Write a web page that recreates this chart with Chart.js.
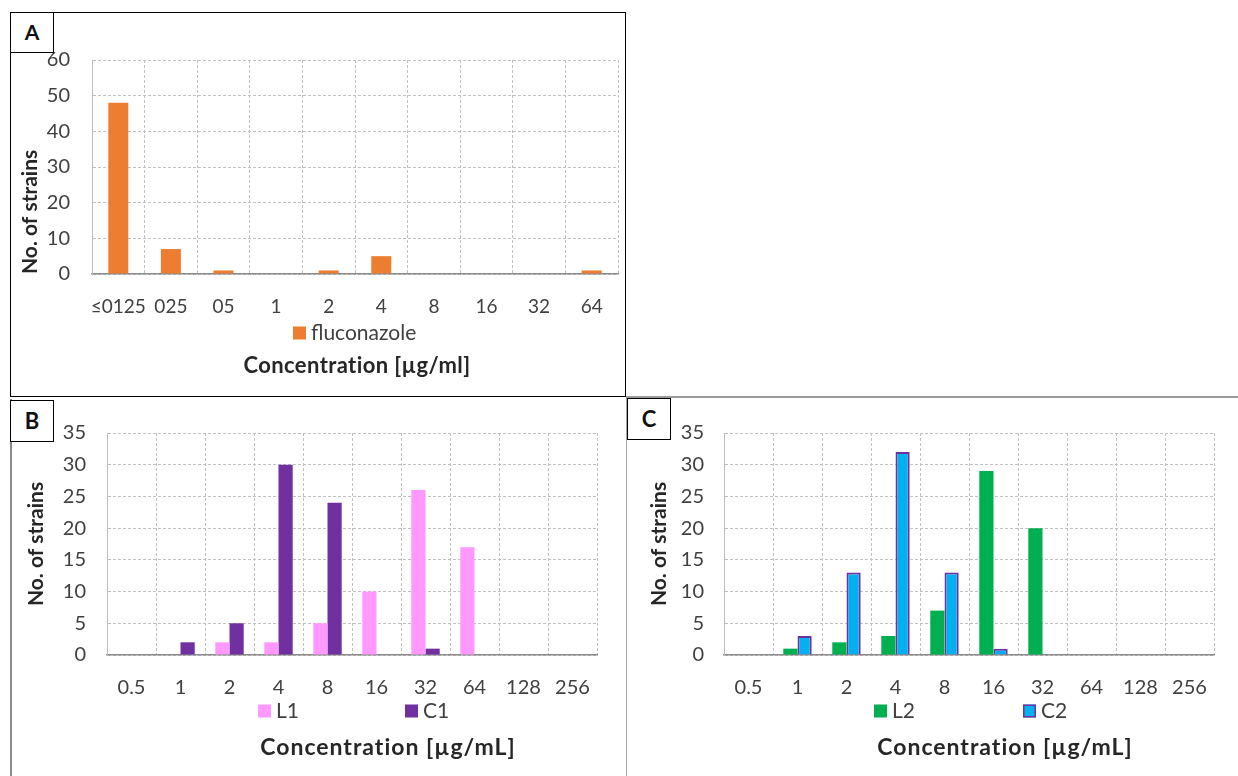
<!DOCTYPE html>
<html>
<head>
<meta charset="utf-8">
<script src="https://cdn.jsdelivr.net/npm/chart.js@4.4.1/dist/chart.umd.min.js"></script>
<style>
  body { margin: 0; background: #fff; }
  #page { position: relative; width: 1238px; height: 776px; overflow: hidden; background: #fff; font-family: Lato, sans-serif; }
  canvas { position: absolute; }
  .line { position: absolute; pointer-events: none; box-sizing: border-box; }
  .tag { position: absolute; box-sizing: border-box; border: 1.5px solid #000; background: #fff;
         font-weight: bold; color: #111; text-align: center; }
</style>
</head>
<body>
<div id="page">
  <canvas id="chartA" width="615" height="383" style="left:10px;top:12px"></canvas>
  <canvas id="chartB" width="615" height="380" style="left:10px;top:396px"></canvas>
  <canvas id="chartC" width="611" height="380" style="left:627px;top:396px"></canvas>

  <!-- panel frames -->
  <div class="line" style="left:10px;top:12px;width:616px;height:385px;border:1.5px solid #000"></div>
  <div class="line" style="left:10px;top:399px;width:2px;height:377px;background:#8a8a8a"></div>
  <div class="line" style="left:626px;top:396px;width:1px;height:380px;background:#a8a8a8"></div>
  <div class="line" style="left:626px;top:396px;width:612px;height:1.5px;background:#9a9a9a"></div>

  <div class="tag" style="left:10px;top:12px;width:44px;height:41px;font-size:21px;line-height:38px">A</div>
  <div class="tag" style="left:10px;top:400px;width:44px;height:42px;font-size:22px;line-height:39px">B</div>
  <div class="tag" style="left:627px;top:398px;width:44px;height:42px;font-size:22px;line-height:39px">C</div>
</div>

<script>
// Data
const catsA = ['≤0125', '025', '05', '1', '2', '4', '8', '16', '32', '64'];
const fluconazole = [48, 7, 1, 0, 1, 5, 0, 0, 0, 1];

const catsBC = ['0.5', '1', '2', '4', '8', '16', '32', '64', '128', '256'];
const L1 = [0, 0, 2, 2, 5, 10, 26, 17, 0, 0];
const C1 = [0, 2, 5, 30, 24, 0, 1, 0, 0, 0];
const L2 = [0, 1, 2, 3, 7, 29, 20, 0, 0, 0];
const C2 = [0, 3, 13, 32, 13, 1, 0, 0, 0, 0];

const ticksA = { min: 0, max: 60, step: 10 };
const ticksBC = { min: 0, max: 35, step: 5 };

const TXT = '#404040';
const GRID = '#c0c0c0';

// legend row + x title drawn between the tick labels and the bottom of the panel
const belowAxis = {
  id: 'belowAxis',
  afterDraw(chart, args, opts) {
    const ctx = chart.ctx;
    ctx.save();
    ctx.textBaseline = 'middle';
    ctx.textAlign = 'left';
    ctx.font = opts.legendFont;
    chart.data.datasets.forEach((ds, i) => {
      const x = opts.legendX[i];
      const y = opts.legendY;
      ctx.fillStyle = ds.backgroundColor;
      ctx.fillRect(x, y - 6.5, 13, 13);
      if (ds.borderWidth) {
        ctx.lineWidth = 1.5;
        ctx.strokeStyle = ds.borderColor;
        ctx.strokeRect(x + 0.75, y - 5.75, 11.5, 11.5);
      }
      ctx.fillStyle = TXT;
      ctx.fillText(ds.label, x + 18, y);
    });
    ctx.font = opts.titleFont;
    ctx.letterSpacing = opts.titleSpacing;
    ctx.textAlign = 'center';
    ctx.fillStyle = '#262626';
    ctx.fillText(opts.title, opts.titleX, opts.titleY);
    ctx.restore();
  }
};

function makeChart(id, labels, datasets, cfg) {
  return new Chart(document.getElementById(id), {
    type: 'bar',
    data: { labels, datasets },
    plugins: [belowAxis],
    options: {
      responsive: false,
      animation: false,
      events: [],
      layout: { padding: { left: 0, right: cfg.padRight, top: cfg.top, bottom: 0 } },
      datasets: {
        bar: { categoryPercentage: cfg.catPct, barPercentage: 1 }
      },
      scales: {
        x: {
          afterFit: (s) => { s.height = cfg.xHeight; },
          grid: { color: GRID, offset: true, drawTicks: false },
          border: { display: true, color: '#8c8c8c', width: 1.5, dash: [3, 2] },
          ticks: { color: TXT, padding: cfg.xPad, font: { family: 'Lato', size: cfg.xFont }, maxRotation: 0, autoSkip: false }
        },
        y: {
          min: cfg.ticks.min,
          max: cfg.ticks.max,
          afterFit: (s) => { s.width = cfg.yWidth; },
          grid: { color: GRID, drawTicks: false },
          border: { display: true, color: '#bdbdbd', width: 1, dash: [3, 2] },
          ticks: { stepSize: cfg.ticks.step, color: TXT, padding: cfg.yPad, font: { family: 'Lato', size: 20 } },
          title: {
            display: true,
            text: cfg.yTitle,
            align: cfg.yAlign,
            color: '#262626',
            padding: { top: cfg.yTitlePad, bottom: 0 },
            font: { family: 'Lato', size: 21, weight: 'bold' }
          }
        }
      },
      plugins: {
        legend: { display: false },
        tooltip: { enabled: false },
        belowAxis: {
          legendX: cfg.legendX,
          legendY: cfg.legendY,
          legendFont: '21px Lato',
          title: cfg.title,
          titleX: cfg.titleX,
          titleY: cfg.titleY,
          titleFont: cfg.titleFont,
          titleSpacing: cfg.titleSpacing
        }
      }
    }
  });
}

makeChart('chartA', catsA, [
  { label: 'fluconazole', data: fluconazole, backgroundColor: '#ED7D31' }
], {
  ticks: ticksA, catPct: 0.38, padRight: 7, top: 48, xHeight: 121, yWidth: 82,
  xPad: 21, xFont: 19, yPad: 22, yTitlePad: 8, yAlign: 'start',
  yTitle: 'No. of strains   ',
  legendX: [283], legendY: 321,
  title: 'Concentration [µg/ml]', titleX: 347, titleY: 354,
  titleFont: 'bold 22px Lato', titleSpacing: '0.4px'
});

makeChart('chartB', catsBC, [
  { label: 'L1', data: L1, backgroundColor: '#FF99FF' },
  { label: 'C1', data: C1, backgroundColor: '#7030A0' }
], {
  ticks: ticksBC, catPct: 0.58, padRight: 28, top: 37, xHeight: 121, yWidth: 97,
  xPad: 21, xFont: 20, yPad: 21, yTitlePad: 14, yAlign: 'center',
  yTitle: 'No. of strains',
  legendX: [248, 395], legendY: 315,
  title: 'Concentration [µg/mL]', titleX: 378, titleY: 352,
  titleFont: 'bold 23px Lato', titleSpacing: '1px'
});

makeChart('chartC', catsBC, [
  { label: 'L2', data: L2, backgroundColor: '#00B050' },
  { label: 'C2', data: C2, backgroundColor: '#00B0F0', borderColor: '#7030A0', borderWidth: 2 }
], {
  ticks: ticksBC, catPct: 0.58, padRight: 24, top: 37, xHeight: 121, yWidth: 97,
  xPad: 21, xFont: 20, yPad: 20, yTitlePad: 20, yAlign: 'center',
  yTitle: 'No. of strains',
  legendX: [247, 396], legendY: 315,
  title: 'Concentration [µg/mL]', titleX: 378, titleY: 352,
  titleFont: 'bold 23px Lato', titleSpacing: '1px'
});
</script>
</body>
</html>
